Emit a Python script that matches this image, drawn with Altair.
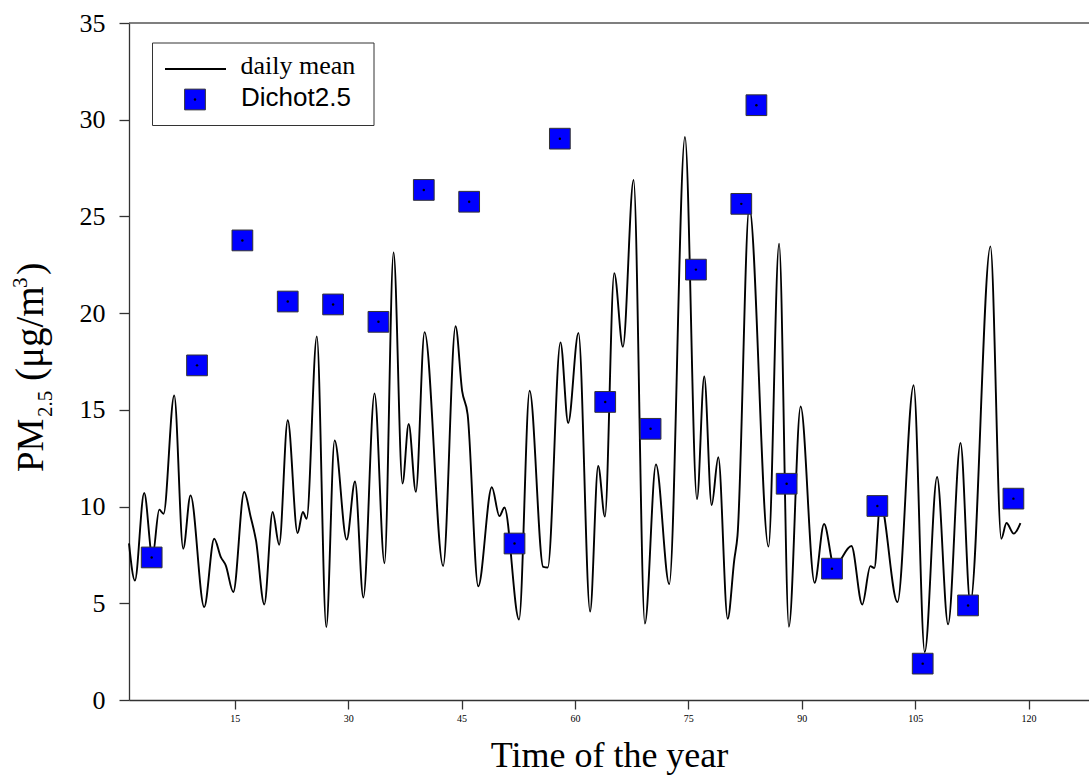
import altair as alt
import pandas as pd

# ---- data ----
day_line = [1.0, 1.78, 3.01, 4.1, 5.0, 5.57, 6.98, 8.17, 9.14, 10.95, 12.27, 13.15, 13.8, 14.8,
            16.24, 17.1, 17.8, 18.9, 20.0, 20.87, 22.0, 23.3, 24.0, 24.5, 25.85, 27.1, 28.2,
            29.8, 30.9, 32.0, 33.48, 34.8, 36.0, 37.18, 38.0, 38.95, 40.1, 42.56, 44.2, 45.08,
            45.8, 47.2, 49.0, 50.0, 50.67, 52.6, 54.0, 55.8, 56.4, 58.08, 59.1, 60.46, 62.0,
            63.07, 63.96, 65.19, 66.34, 67.75, 69.25, 70.71, 72.47, 74.55, 76.14, 77.1, 78.08,
            78.96, 80.2, 81.08, 81.5, 83.06, 85.6, 87.0, 88.3, 89.85, 91.7, 92.95, 94.3, 96.57,
            98.0, 99.08, 99.6, 100.4, 102.66, 104.8, 106.27, 107.9, 109.36, 111.0, 112.3,
            114.96, 116.4, 117.08, 118.05, 118.93]
pm_line = [8.1, 6.18, 10.7, 7.4, 9.84, 9.63, 15.75, 7.82, 10.58, 4.8, 8.34, 7.39, 6.96, 5.58,
           10.75, 9.46, 8.25, 4.94, 9.72, 8.03, 14.46, 8.63, 9.72, 9.37, 18.8, 3.77, 13.42,
           8.29, 11.3, 5.3, 15.85, 7.07, 23.14, 11.19, 14.27, 10.76, 19.02, 6.93, 19.32, 15.95,
           14.76, 5.88, 11.0, 9.51, 9.95, 4.16, 15.99, 6.88, 6.85, 18.49, 14.32, 18.98, 4.57,
           12.1, 9.48, 22.07, 18.26, 26.88, 3.95, 12.18, 5.99, 29.11, 10.38, 16.73, 10.08,
           12.55, 4.2, 7.27, 8.5, 25.49, 7.93, 23.59, 3.79, 15.17, 6.06, 9.1, 6.9, 7.96,
           4.94, 6.92, 6.82, 10.2, 5.06, 16.27, 2.48, 11.53, 3.91, 13.29, 5.0,
           23.45, 8.34, 9.15, 8.6, 9.15]

day_dichot = [4, 10, 16, 22, 28, 34, 40, 46, 52, 58, 64, 70, 76, 82, 84, 88, 94, 100, 106, 112, 118]
pm_dichot = [7.37, 17.3, 23.76, 20.6, 20.45, 19.55, 26.37, 25.76, 8.09, 29.02, 15.41, 14.02,
             22.25, 25.65, 30.75, 11.18, 6.79, 10.03, 1.88, 4.89, 10.41]

x_ticks = [15, 30, 45, 60, 75, 90, 105, 120]
y_ticks = [0, 5, 10, 15, 20, 25, 30, 35]
x_domain = [1, 128]
y_domain = [0, 35]
legend_labels = ["daily mean", "Dichot2.5"]
x_title = "Time of the year"

SERIF = "Liberation Serif"
SANS = "Liberation Sans"

line_df = pd.DataFrame({"day": day_line, "pm": pm_line})
pt_df = pd.DataFrame({"day": day_dichot, "pm": pm_dichot})
one = pd.DataFrame({"k": [0]})

xs = alt.Scale(domain=x_domain, nice=False, zero=False)
ys = alt.Scale(domain=y_domain, nice=False)

x_axis = alt.Axis(values=x_ticks, labelFont=SERIF, labelFontSize=10, labelColor="black",
                  tickSize=9, tickColor="#333", domainColor="#333", domainWidth=1.3,
                  tickWidth=1.3, grid=False, labelPadding=4, title=x_title,
                  titleFont=SERIF, titleFontSize=36, titleFontWeight="normal",
                  titleColor="black", titleBaseline="alphabetic", titleY=66)
y_axis = alt.Axis(values=y_ticks, labelFont=SERIF, labelFontSize=26, labelColor="black",
                  tickSize=10, tickColor="#333", domainColor="#333", domainWidth=1.3,
                  tickWidth=1.3, grid=False, labelPadding=14, title=None)

line = alt.Chart(line_df).mark_line(color="black", strokeWidth=1.9, interpolate="monotone").encode(
    x=alt.X("day:Q", scale=xs, axis=x_axis),
    y=alt.Y("pm:Q", scale=ys, axis=y_axis),
)

squares = alt.Chart(pt_df).mark_point(shape="square", filled=True, fill="#0000FF",
                                      stroke="#333", strokeWidth=1, size=430, opacity=1).encode(
    x=alt.X("day:Q", scale=xs), y=alt.Y("pm:Q", scale=ys))
dots = alt.Chart(pt_df).mark_circle(color="black", size=6, opacity=1).encode(
    x=alt.X("day:Q", scale=xs), y=alt.Y("pm:Q", scale=ys))

top_rule = alt.Chart(one).mark_rule(color="#555", strokeWidth=1.6).encode(
    x=alt.datum(x_domain[0], scale=xs), x2=alt.datum(x_domain[1]), y=alt.datum(y_domain[1], scale=ys))

# ---- legend (hand-built) ----
leg_box = alt.Chart(one).mark_rect(fill="white", stroke="#333", strokeWidth=1).encode(
    x=alt.value(23.5), x2=alt.value(245), y=alt.value(20), y2=alt.value(102.5))
leg_line = alt.Chart(one).mark_rule(color="black", strokeWidth=1.9).encode(
    x=alt.value(36), x2=alt.value(97), y=alt.value(46))
leg_sq = alt.Chart(one).mark_point(shape="square", filled=True, fill="#0000FF", stroke="#333",
                                   strokeWidth=1, size=430, opacity=1).encode(
    x=alt.value(66), y=alt.value(76.5))
leg_dot = alt.Chart(one).mark_circle(color="black", size=6, opacity=1).encode(
    x=alt.value(66), y=alt.value(76.5))
leg_t1 = alt.Chart(one).mark_text(text=legend_labels[0], font=SERIF, fontSize=26, align="left",
                                  baseline="alphabetic", color="black").encode(
    x=alt.value(111.5), y=alt.value(51))
leg_t2 = alt.Chart(one).mark_text(text=legend_labels[1], font=SANS, fontSize=26, align="left",
                                  baseline="alphabetic", color="black").encode(
    x=alt.value(112), y=alt.value(83))

# ---- y title with subscript / superscript ----
def vtext(txt, size, px, py):
    return alt.Chart(one).mark_text(text=txt, font=SERIF, fontSize=size, angle=270, align="left",
                                    baseline="alphabetic", color="black").encode(
        x=alt.value(px), y=alt.value(py))

t_pm = vtext("PM", 37, 43 - 129, 472 - 23)
t_sub = vtext("2.5", 21, 52 - 129, 417 - 23)
t_mid = vtext("(\u03bcg/m", 39, 43 - 129, 381 - 23)
t_sup = vtext("3", 21, 27 - 129, 288 - 23)
t_end = vtext(")", 37, 43 - 129, 275 - 23)

chart = alt.layer(line, top_rule, squares, dots, leg_box, leg_line, leg_sq, leg_dot, leg_t1, leg_t2,
                  t_pm, t_sub, t_mid, t_sup, t_end).properties(
    width=960, height=677,
    padding={"left": 129, "top": 23, "right": 0, "bottom": 75},
    autosize=alt.AutoSizeParams(type="none"),
    background="white",
).configure_view(stroke=None)

chart.save("out.html", embed_options={"renderer": "svg", "actions": False})
